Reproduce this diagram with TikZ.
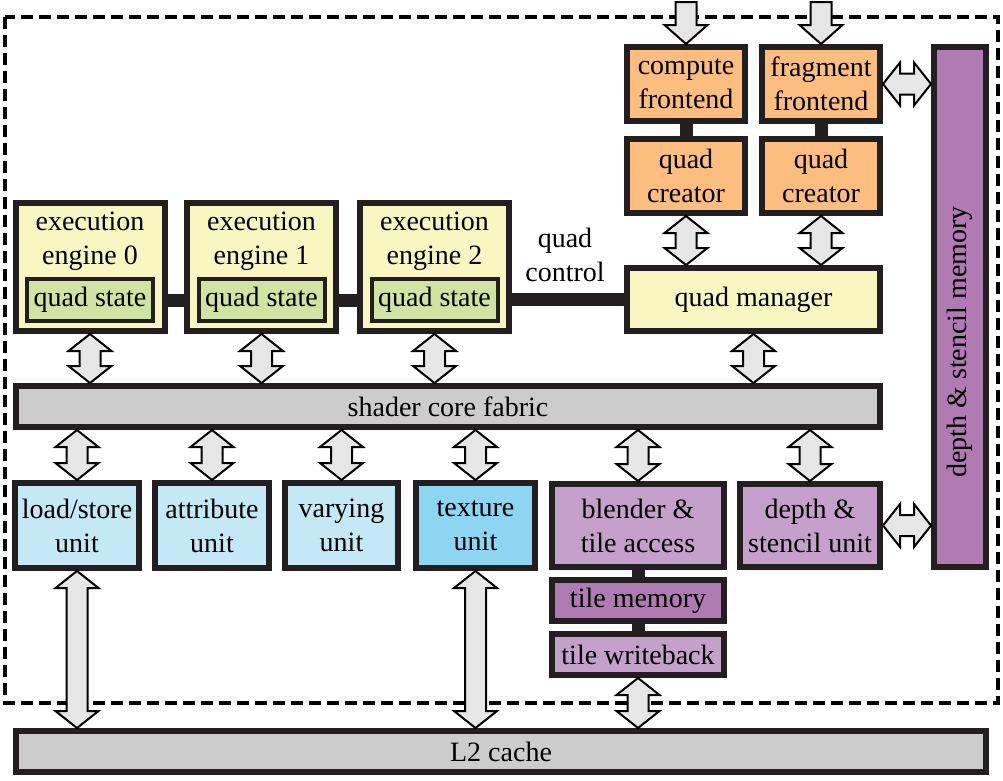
\documentclass[tikz,border=0pt]{standalone}
\usepackage{fontspec}
\setmainfont{Liberation Serif}
\usetikzlibrary{calc}
\definecolor{boxline}{HTML}{231F20}
\definecolor{frontorange}{HTML}{FBBE7E}
\definecolor{engyellow}{HTML}{F9F7C1}
\definecolor{stategreen}{HTML}{D1E3A0}
\definecolor{fabricgray}{HTML}{CCCCCC}
\definecolor{unitblue}{HTML}{C4E8F6}
\definecolor{texblue}{HTML}{8DD6F2}
\definecolor{tilepurple}{HTML}{C4A0CB}
\definecolor{mempurple}{HTML}{B07AB2}
\definecolor{arrowgray}{HTML}{E6E6E6}

\newcommand{\vdarrow}[2]{\draw[fatarrow] (#1) -- ++(21.5,17) -- ++(-11,0) -- ($(#2)+(10.5,-17)$) -- ++(11,0) -- (#2) -- ++(-21.5,-17) -- ++(11,0) -- ($(#1)+(-10.5,17)$) -- ++(-11,0) -- cycle;}
\newcommand{\hdarrow}[2]{\draw[fatarrow] (#1) -- ++(17,-21.5) -- ++(0,11) -- ($(#2)+(-17,-10.5)$) -- ++(0,-11) -- (#2) -- ++(-17,21.5) -- ++(0,-11) -- ($(#1)+(17,10.5)$) -- ++(0,11) -- cycle;}
\newcommand{\vsarrow}[2]{\draw[fatarrow] ($(#1)+(-10.5,0)$) -- ($(#2)+(-10.5,-19)$) -- ++(-11,0) -- (#2) -- ++(21.5,-19) -- ++(-11,0) -- ($(#1)+(10.5,0)$) -- cycle;}

\begin{document}
\begin{tikzpicture}[x=1pt, y=-1pt,
        box/.style = {draw=boxline, line width=6pt, inner sep=0pt, align=center, font=\fontsize{28}{34}\selectfont},
        plain/.style = {inner sep=0pt, align=center, font=\fontsize{28}{34}\selectfont},
        front/.style = {box, fill=frontorange, minimum width=118pt, minimum height=74pt},
        engine/.style = {box, fill=engyellow, minimum width=149pt, minimum height=128pt},
        qstate/.style = {box, line width=4pt, fill=stategreen, minimum width=126pt, minimum height=42pt},
        unit/.style = {box, fill=unitblue, minimum height=85pt},
        tile/.style = {box, fill=tilepurple, minimum width=172pt},
        bar/.style = {box, fill=fabricgray, minimum height=41pt},
        fatarrow/.style = {draw=black, fill=arrowgray, line width=2pt},
        bus/.style = {draw=boxline, line width=13pt}]
    \useasboundingbox (0,0) rectangle (1003,780);
    \draw[line width=4pt, dash pattern=on 12pt off 6pt] (5,17) rectangle (998,703);

    \node[front] (cfe) at (686,84) {compute\\frontend};
    \node[front] (ffe) at (821,84) {fragment\\frontend};
    \node[front] (qc0) at (686,176) {quad\\creator};
    \node[front] (qc1) at (821,176) {quad\\creator};
    \node[box, fill=mempurple, minimum width=52pt, minimum height=520pt] (dsmem) at (960,307) {};
    \node[plain, rotate=90] (dsmemt) at (960,342) {depth \& stencil memory};

    \node[engine] (e0) at (90,267) {};
    \node[engine] (e1) at (261.5,267) {};
    \node[engine] (e2) at (434.5,267) {};
    \node[plain] (e0t) at (90,241) {execution\\engine 0};
    \node[plain] (e1t) at (261.5,241) {execution\\engine 1};
    \node[plain] (e2t) at (434.5,241) {execution\\engine 2};
    \node[qstate] (qs0) at (90,300) {quad state};
    \node[qstate] (qs1) at (261.5,300) {quad state};
    \node[qstate] (qs2) at (434.5,300) {quad state};
    \node[box, fill=engyellow, minimum width=253pt, minimum height=63pt] (qm) at (753.5,299.5) {quad manager};
    \node[plain] (qctl) at (565,255) {quad\\control};

    \node[bar, minimum width=864pt] (fab) at (448,406.5) {shader core fabric};

    \node[unit, minimum width=124pt] (ls) at (77,525.5) {load/store\\unit};
    \node[unit, minimum width=114pt] (attr) at (212,525.5) {attribute\\unit};
    \node[unit, minimum width=113pt] (vary) at (341.5,525.5) {varying\\unit};
    \node[unit, fill=texblue, minimum width=119pt] (tex) at (475.5,525.5) {texture\\unit};
    \node[tile, minimum height=83pt] (blend) at (638,525.5) {blender \&\\tile access};
    \node[tile, minimum width=140pt, minimum height=83pt] (dsu) at (810,525.5) {depth \&\\stencil unit};
    \node[tile, fill=mempurple, minimum height=41pt] (tmem) at (638,600.5) {tile memory};
    \node[tile, minimum height=41pt] (twb) at (638,654.5) {tile writeback};

    \node[bar, minimum width=970pt] (l2) at (501,751.5) {L2 cache};

    \draw[bus] (cfe.south) -- (qc0.north);
    \draw[bus] (ffe.south) -- (qc1.north);
    \draw[bus] (e0.east |- qs0) -- (e1.west |- qs1);
    \draw[bus] (e1.east |- qs1) -- (e2.west |- qs2);
    \draw[bus] (e2.east |- qm.west) -- (qm.west);
    \draw[bus] (blend.south) -- (tmem.north);
    \draw[bus] (tmem.south) -- (twb.north);

    \coordinate (cin) at (686,2);
    \coordinate (fin) at (821,2);
    \vsarrow{cin}{cfe.north}
    \vsarrow{fin}{ffe.north}
    \vdarrow{qc0.south}{qm.north -| qc0}
    \vdarrow{qc1.south}{qm.north -| qc1}
    \hdarrow{ffe.east}{dsmem.west |- ffe.east}
    \vdarrow{e0.south}{fab.north -| e0}
    \vdarrow{e1.south}{fab.north -| e1}
    \vdarrow{e2.south}{fab.north -| e2}
    \vdarrow{qm.south}{fab.north -| qm}
    \vdarrow{fab.south -| ls}{ls.north}
    \vdarrow{fab.south -| attr}{attr.north}
    \vdarrow{fab.south -| vary}{vary.north}
    \vdarrow{fab.south -| tex}{tex.north}
    \vdarrow{fab.south -| blend}{blend.north}
    \vdarrow{fab.south -| dsu}{dsu.north}
    \hdarrow{dsu.east}{dsmem.west |- dsu.east}
    \vdarrow{ls.south}{l2.north -| ls}
    \vdarrow{tex.south}{l2.north -| tex}
    \vdarrow{twb.south}{l2.north -| twb}
\end{tikzpicture}
\end{document}
